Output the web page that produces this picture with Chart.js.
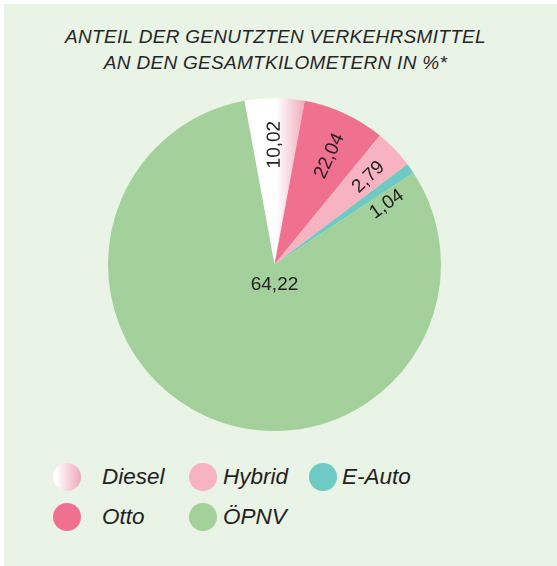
<!DOCTYPE html>
<html>
<head>
<meta charset="utf-8">
<script src="https://cdn.jsdelivr.net/npm/chart.js@4.4.1/dist/chart.umd.min.js"></script>
<style>
  body { margin: 0; background: #fff; font-family: "Liberation Sans", Arial, sans-serif; color: #222; }
  #panel { position: absolute; left: 4px; top: 4px; width: 553px; height: 562px; background: #e9f3e6; }
  #title { position: absolute; left: 0; width: 551px; top: 24px; text-align: center;
           font-style: italic; font-size: 19px; letter-spacing: 0.3px; line-height: 26px; color: #262626; }
  #pie { position: absolute; left: 108px; top: 98px; }
  .dot { position: absolute; width: 28px; height: 28px; border-radius: 50%; }
  .lbl { position: absolute; font-style: italic; font-size: 22.5px; line-height: 28px; white-space: nowrap; color: #222; }
</style>
</head>
<body>
<div id="panel"></div>
<div id="title">ANTEIL DER GENUTZTEN VERKEHRSMITTEL<br>AN DEN GESAMTKILOMETERN IN %*</div>
<canvas id="pie" width="333" height="333"></canvas>
<div id="legend"></div>
<script>
// shares as drawn in the picture (angle of each slice), clockwise from Diesel
const categories = ['Diesel', 'Otto', 'Hybrid', 'E-Auto', 'ÖPNV'];
const shares = [5.8, 8.0, 3.8, 1.0, 81.4];
// numbers printed on the slices
const printedLabels = ['10,02', '22,04', '2,79', '1,04', '64,22'];

const COLORS = ['#f4bccb', '#f0718f', '#f8b3c0', '#6fcac4', '#a4d09b'];
const DIESEL_FROM = '#ffffff';
const DIESEL_TO = '#f0a8ba';

// where each printed number sits: radius fraction, extra degrees, or a plain offset from the centre
const LABEL_PLACE = [
  { r: 0.72, shift: 0 },
  { r: 0.73, shift: 2 },
  { r: 0.77, shift: 1 },
  { r: 0.765, shift: 7 },
  { dx: 0, dy: 20 },
];

// legend grid: [column, row] per category, and the column/row coordinates
const LEGEND_SLOTS = [[0, 0], [0, 1], [1, 0], [2, 0], [1, 1]];
const COL_DOT = [67, 203, 323];
const COL_TEXT = [102, 223, 342];
const ROW_Y = [476.5, 516.5];

const valueLabels = {
  id: 'valueLabels',
  afterDatasetsDraw(chart) {
    const ctx = chart.ctx;
    const meta = chart.getDatasetMeta(0);
    ctx.save();
    ctx.font = '19px "Liberation Sans", Arial, sans-serif';
    ctx.fillStyle = '#222';
    ctx.textAlign = 'center';
    ctx.textBaseline = 'middle';
    meta.data.forEach((arc, i) => {
      const p = arc.getProps(['x', 'y', 'startAngle', 'endAngle', 'outerRadius'], true);
      const place = LABEL_PLACE[i];
      ctx.save();
      if (place.r !== undefined) {
        const mid = (p.startAngle + p.endAngle) / 2;
        const a = mid + place.shift * Math.PI / 180;
        ctx.translate(p.x + Math.cos(a) * p.outerRadius * place.r, p.y + Math.sin(a) * p.outerRadius * place.r);
        ctx.rotate(mid);
      } else {
        ctx.translate(p.x + place.dx, p.y + place.dy);
      }
      ctx.fillText(printedLabels[i], 0, 0);
      ctx.restore();
    });
    ctx.restore();
  },
};

new Chart(document.getElementById('pie'), {
  type: 'pie',
  data: {
    labels: categories,
    datasets: [{
      data: shares,
      borderWidth: 0,
      backgroundColor(c) {
        if (c.dataIndex !== 0) return COLORS[c.dataIndex];
        const area = c.chart.chartArea;
        if (!area) return COLORS[0];
        const cx = (area.left + area.right) / 2;
        const g = c.chart.ctx.createLinearGradient(cx + 2, 0, cx + 31, 0);
        g.addColorStop(0, DIESEL_FROM);
        g.addColorStop(1, DIESEL_TO);
        return g;
      },
    }],
  },
  options: {
    responsive: false,
    animation: false,
    rotation: -10.4,
    layout: { padding: 0 },
    plugins: { legend: { display: false }, tooltip: { enabled: false } },
  },
  plugins: [valueLabels],
});

// legend, built from the same category list
const legend = document.getElementById('legend');
legend.innerHTML = categories.map((name, i) => {
  const [col, row] = LEGEND_SLOTS[i];
  const fill = i === 0 ? `linear-gradient(to right, ${DIESEL_FROM} 10%, ${DIESEL_TO})` : COLORS[i];
  const y = ROW_Y[row];
  return `<div class="dot" style="left:${COL_DOT[col] - 14}px;top:${y - 14}px;background:${fill}"></div>
          <div class="lbl" style="left:${COL_TEXT[col]}px;top:${y - 14}px">${name}</div>`;
}).join('');
</script>
</body>
</html>
